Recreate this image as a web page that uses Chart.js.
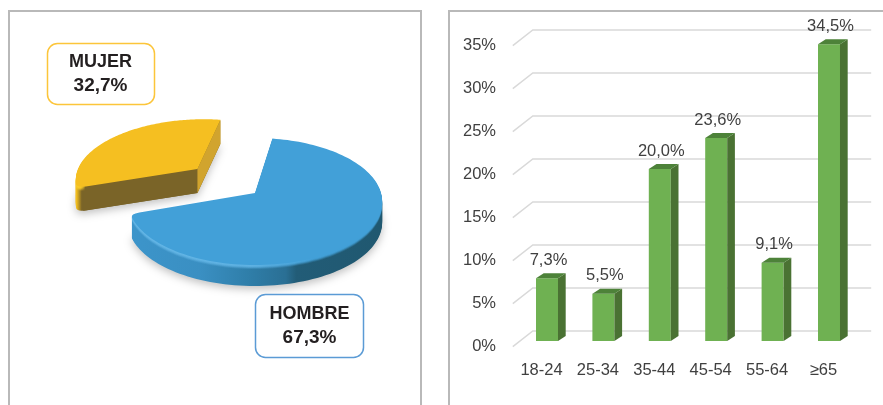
<!DOCTYPE html>
<html>
<head>
<meta charset="utf-8">
<title>Sexo y edad</title>
<script src="https://cdn.jsdelivr.net/npm/chart.js@4/dist/chart.umd.js"></script>
<style>
  html, body { margin: 0; padding: 0; background: #fff; overflow: hidden; }
  .frame { position: absolute; top: 10px; border: solid #b9b9b9; border-width: 2px 0 0 2px; box-sizing: border-box; height: 395px; }
  #frameLeft { left: 8px; width: 414px; border-right-width: 2px; }
  #frameRight { left: 448px; width: 435px; }
  canvas { position: absolute; }
</style>
</head>
<body>
<div class="frame" id="frameLeft"></div>
<div class="frame" id="frameRight"></div>
<canvas id="pie" width="412" height="394" style="left:9px;top:11px"></canvas>
<canvas id="bars" width="433" height="394" style="left:450px;top:11px"></canvas>
<script>
const sexLabels = ['HOMBRE', 'MUJER'];
const sexValues = [67.3, 32.7];
const sexColors = ['#42a0d8', '#f5bf21'];
const ageLabels = ['18-24', '25-34', '35-44', '45-54', '55-64', '≥65'];
const ageValues = [7.3, 5.5, 20.0, 23.6, 9.1, 34.5];
const yTickLabels = ['0%', '5%', '10%', '15%', '20%', '25%', '30%', '35%'];

const fmt = v => v.toFixed(1).replace('.', ',') + '%';
const FONT = '"Liberation Sans", Arial, sans-serif';

// perspective of the pie: v is towards the viewer, a circle maps to an off-centre ellipse
const TILT = 0.134, SQUASH = 0.495;
const project = (arc, u, v, drop) => {
  const d = 1 - TILT * v;
  return [arc.x + arc.outerRadius * u / d, arc.y + SQUASH * arc.outerRadius * v / d + drop];
};

// slice outline; the corner at roundAngle is softened like the bevel in the original
function wedge(ctx, arc, explode, drop, roundAngle) {
  const mid = (arc.startAngle + arc.endAngle) / 2;
  const ox = Math.cos(mid) * explode, oy = Math.sin(mid) * explode;
  const at = (t, r) => project(arc, ox + Math.cos(t) * r, oy + Math.sin(t) * r, drop);
  const soft = 0.06;
  const fromStart = roundAngle === arc.startAngle, fromEnd = roundAngle === arc.endAngle;
  const t0 = arc.startAngle + (fromStart ? soft : 0), t1 = arc.endAngle - (fromEnd ? soft : 0);
  ctx.beginPath();
  ctx.moveTo(...project(arc, ox, oy, drop));
  if (fromStart) {
    ctx.lineTo(...at(arc.startAngle, 0.93));
    ctx.quadraticCurveTo(...at(arc.startAngle, 1), ...at(t0, 1));
  }
  for (let i = 0; i <= 120; i++) {
    ctx.lineTo(...at(t0 + (t1 - t0) * i / 120, 1));
  }
  if (fromEnd) {
    ctx.quadraticCurveTo(...at(arc.endAngle, 1), ...at(arc.endAngle, 0.93));
  }
  ctx.closePath();
}

function cutFace(ctx, arc, explode, depth, angle, reach, color) {
  const mid = (arc.startAngle + arc.endAngle) / 2;
  const ox = Math.cos(mid) * explode, oy = Math.sin(mid) * explode;
  const a = project(arc, ox, oy, 0), b = project(arc, ox + Math.cos(angle) * reach, oy + Math.sin(angle) * reach, 0);
  ctx.fillStyle = color;
  ctx.beginPath();
  ctx.moveTo(a[0], a[1]);
  ctx.lineTo(b[0], b[1]);
  ctx.lineTo(b[0], b[1] + depth);
  ctx.lineTo(a[0], a[1] + depth);
  ctx.closePath();
  ctx.fill();
}

function fade(ctx, x0, x1, stops) {
  const g = ctx.createLinearGradient(x0, 0, x1, 0);
  stops.forEach(s => g.addColorStop(s[0], s[1]));
  return g;
}

const pie3d = {
  id: 'pie3d',
  beforeDatasetDraw(chart) {
    const ctx = chart.ctx;
    const arcs = chart.getDatasetMeta(0).data;
    const looks = [
      { explode: 0, depth: 21,
        side: [[0, '#3d96cc'], [0.32, '#3a8fc2'], [0.5, '#2f7ea9'], [0.64, '#2a6f94'], [0.68, '#225c77'], [1, '#205870']],
        rim: [[0, '#64b6e6'], [0.5, '#5fb2e3'], [0.75, '#42a0d8'], [1, '#42a0d8']] },
      { explode: 0.63, depth: 24,
        side: [[0, '#f1bd1f'], [0.115, '#f1bd1f'], [0.13, '#7a6428'], [1, '#7a6428']],
        rim: [[0, '#f9cb26'], [0.125, '#f9cb26'], [0.14, 'rgba(249,203,38,0)'], [1, 'rgba(249,203,38,0)']],
        front: '#7a6428', right: '#d1a42e' }
    ];
    // yellow slice sits behind the blue one
    [1, 0].forEach(i => {
      const arc = arcs[i], look = looks[i];
      const tip = i === 0 ? arc.endAngle : arc.startAngle;
      const x0 = arc.x - arc.outerRadius * (1.1 + look.explode), x1 = arc.x + arc.outerRadius;
      const side = fade(ctx, x0, x1, look.side), rim = fade(ctx, x0, x1, look.rim);
      ctx.save();
      ctx.shadowColor = 'rgba(0,0,0,0.25)';
      ctx.shadowBlur = 9;
      ctx.shadowOffsetY = 3;
      ctx.fillStyle = side;
      wedge(ctx, arc, look.explode, look.depth, tip);
      ctx.fill();
      ctx.shadowColor = 'transparent';
      for (let d = look.depth - 1; d > 0; d--) {
        ctx.fillStyle = side;
        wedge(ctx, arc, look.explode, d, tip);
        ctx.fill();
      }
      if (look.front) {
        cutFace(ctx, arc, look.explode, look.depth, arc.startAngle, 0.95, look.front);
        cutFace(ctx, arc, look.explode, look.depth, arc.endAngle, 1, look.right);
      }
      // soft bevel between side and top
      for (let d = 4; d > 0; d--) {
        ctx.globalAlpha = 1 - (d - 1) * 0.25;
        ctx.fillStyle = rim;
        wedge(ctx, arc, look.explode, d, tip);
        ctx.fill();
      }
      ctx.globalAlpha = 1;
      ctx.fillStyle = arc.options.backgroundColor;
      wedge(ctx, arc, look.explode, 0, tip);
      ctx.fill();
      ctx.restore();
    });
    return false;
  },
  afterDraw(chart) {
    const ctx = chart.ctx;
    const boxes = [
      { x: 246.5, y: 283.5, w: 108, h: 63, color: '#5b9bd5', cx: 300.5, t1: 303.5, t2: 326.5 },
      { x: 38.5, y: 32.5, w: 107, h: 61, color: '#fcc53a', cx: 91.5, t1: 51.5, t2: 74.5 }
    ];
    boxes.forEach((b, i) => {
      ctx.fillStyle = '#fff';
      ctx.strokeStyle = b.color;
      ctx.lineWidth = 1.5;
      ctx.beginPath();
      ctx.roundRect(b.x, b.y, b.w, b.h, 10);
      ctx.fill();
      ctx.stroke();
      ctx.fillStyle = '#231f20';
      ctx.textAlign = 'center';
      ctx.textBaseline = 'middle';
      ctx.font = 'bold 18px ' + FONT;
      ctx.fillText(sexLabels[i], b.cx, b.t1);
      ctx.font = 'bold 19px ' + FONT;
      ctx.fillText(fmt(sexValues[i]), b.cx, b.t2);
    });
  }
};

const bars3d = {
  id: 'bars3d',
  beforeDatasetsDraw(chart) {
    const ctx = chart.ctx, y = chart.scales.y, area = chart.chartArea;
    ctx.save();
    ctx.strokeStyle = '#d9d9d9';
    ctx.lineWidth = 1.5;
    y.ticks.forEach(t => {
      const py = y.getPixelForValue(t.value);
      ctx.beginPath();
      ctx.moveTo(area.left - 6, py + 5.7);
      ctx.lineTo(area.left + 14, py - 10);
      ctx.lineTo(area.right + 14, py - 10);
      ctx.stroke();
    });
    ctx.restore();
  },
  afterDatasetsDraw(chart) {
    const ctx = chart.ctx;
    const dx = 7.7, dy = -5;
    ctx.save();
    chart.getDatasetMeta(0).data.forEach((bar, i) => {
      const l = bar.x - bar.width / 2, r = bar.x + bar.width / 2;
      ctx.fillStyle = '#4a7233';
      ctx.beginPath();
      ctx.moveTo(r, bar.y);
      ctx.lineTo(r + dx, bar.y + dy);
      ctx.lineTo(r + dx, bar.base + dy);
      ctx.lineTo(r, bar.base);
      ctx.closePath();
      ctx.fill();
      ctx.fillStyle = '#4d8239';
      ctx.beginPath();
      ctx.moveTo(l, bar.y);
      ctx.lineTo(l + dx, bar.y + dy);
      ctx.lineTo(r + dx, bar.y + dy);
      ctx.lineTo(r, bar.y);
      ctx.closePath();
      ctx.fill();
      ctx.fillStyle = '#404040';
      ctx.font = '16.5px ' + FONT;
      ctx.textAlign = 'center';
      ctx.textBaseline = 'middle';
      ctx.fillText(fmt(ageValues[i]), bar.x + 1.5, bar.y - 18);
    });
    ctx.restore();
  }
};

new Chart(document.getElementById('pie'), {
  type: 'pie',
  data: {
    labels: sexLabels,
    datasets: [{ data: sexValues, backgroundColor: sexColors, borderWidth: 0, hoverOffset: 0 }]
  },
  options: {
    responsive: false,
    animation: false,
    events: [],
    rotation: 9,
    layout: { padding: { left: 120, right: 40, top: 56, bottom: 86 } },
    plugins: { legend: { display: false }, tooltip: { enabled: false } }
  },
  plugins: [pie3d]
});

new Chart(document.getElementById('bars'), {
  type: 'bar',
  data: {
    labels: ageLabels,
    datasets: [{
      data: ageValues,
      backgroundColor: '#6fb152',
      barPercentage: 0.39,
      categoryPercentage: 1
    }]
  },
  options: {
    responsive: false,
    animation: false,
    events: [],
    layout: { padding: { top: 29, right: 25.8 } },
    scales: {
      x: {
        grid: { display: false },
        border: { display: false },
        afterFit(scale) { scale.height = 64; },
        ticks: {
          color: '#404040',
          font: { family: FONT, size: 16.5 },
          padding: 12,
          labelOffset: -5.5,
          maxRotation: 0,
          autoSkip: false
        }
      },
      y: {
        min: 0,
        max: 35,
        grid: { display: false },
        border: { display: false },
        afterFit(scale) { scale.width = 68.8; },
        ticks: {
          stepSize: 5,
          color: '#404040',
          font: { family: FONT, size: 16.5 },
          padding: 14.8,
          labelOffset: 5.7,
          callback: (v, i) => yTickLabels[i]
        }
      }
    },
    plugins: { legend: { display: false }, tooltip: { enabled: false } }
  },
  plugins: [bars3d]
});
</script>
</body>
</html>
